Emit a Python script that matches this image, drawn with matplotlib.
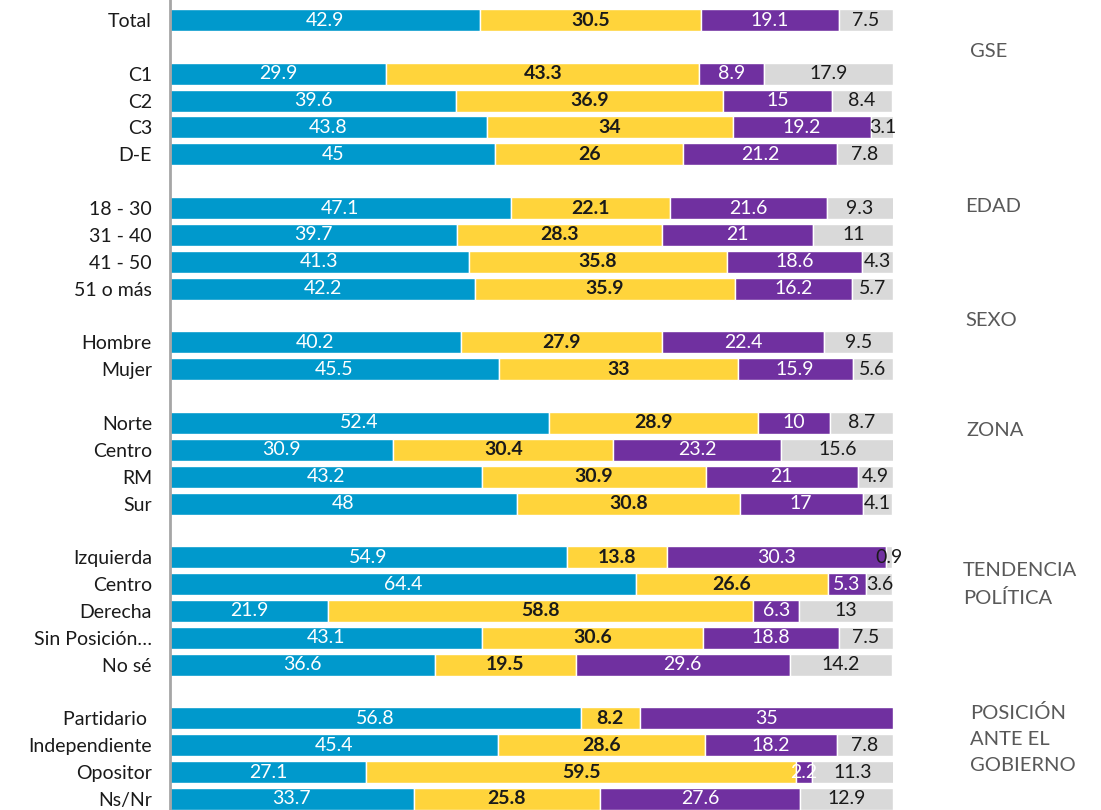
import matplotlib.pyplot as plt

plt.rcParams["font.family"] = ["Lato", "DejaVu Sans"]

# one slot per row; None leaves a blank row between groups
categories = [
    "Total", None,
    "C1", "C2", "C3", "D-E", None,
    "18 - 30", "31 - 40", "41 - 50", "51 o más", None,
    "Hombre", "Mujer", None,
    "Norte", "Centro", "RM", "Sur", None,
    "Izquierda", "Centro", "Derecha", "Sin Posición…", "No sé", None,
    "Partidario ", "Independiente", "Opositor", "Ns/Nr",
]

serie_1 = [42.9, 29.9, 39.6, 43.8, 45, 47.1, 39.7, 41.3, 42.2, 40.2, 45.5,
           52.4, 30.9, 43.2, 48, 54.9, 64.4, 21.9, 43.1, 36.6,
           56.8, 45.4, 27.1, 33.7]
serie_2 = [30.5, 43.3, 36.9, 34, 26, 22.1, 28.3, 35.8, 35.9, 27.9, 33,
           28.9, 30.4, 30.9, 30.8, 13.8, 26.6, 58.8, 30.6, 19.5,
           8.2, 28.6, 59.5, 25.8]
serie_3 = [19.1, 8.9, 15, 19.2, 21.2, 21.6, 21, 18.6, 16.2, 22.4, 15.9,
           10, 23.2, 21, 17, 30.3, 5.3, 6.3, 18.8, 29.6,
           35, 18.2, 2.2, 27.6]
serie_4 = [7.5, 17.9, 8.4, 3.1, 7.8, 9.3, 11, 4.3, 5.7, 9.5, 5.6,
           8.7, 15.6, 4.9, 4.1, 0.9, 3.6, 13, 7.5, 14.2,
           None, 7.8, 11.3, 12.9]

group_names = ["GSE", "EDAD", "SEXO", "ZONA", "TENDENCIA\nPOLÍTICA",
               "POSICIÓN\nANTE EL\nGOBIERNO"]
group_y = [1.19, 6.96, 11.2, 15.3, 21.02, 26.78]
group_x = [1.107, 1.100, 1.100, 1.102, 1.097, 1.107]

colors = ["#0099CC", "#FFD43B", "#7030A0", "#D9D9D9"]
text_colors = ["white", "#1a1a1a", "white", "#1a1a1a"]
weights = ["normal", "bold", "normal", "normal"]

rows = [i for i, c in enumerate(categories) if c is not None]
labels = [c for c in categories if c is not None]

fig = plt.figure(figsize=(11.01, 8.1), dpi=100)
ax = fig.add_axes([0.1544, 0, 0.6567, 1])

left = [0.0] * len(rows)
for k, serie in enumerate([serie_1, serie_2, serie_3, serie_4]):
    for j, (y, v) in enumerate(zip(rows, serie)):
        if v is None:
            continue
        ax.barh(y, v, left=left[j], height=0.82, color=colors[k],
                edgecolor="white", linewidth=1.0)
        ax.text(left[j] + v / 2, y, f"{v:g}", ha="center", va="center",
                fontsize=14, color=text_colors[k], fontweight=weights[k])
        left[j] += v

for name, gy, gx in zip(group_names, group_y, group_x):
    ax.text(gx, gy, name, transform=ax.get_yaxis_transform(),
            ha="left", va="center", fontsize=14.5, color="#595959",
            linespacing=1.65)

ax.set_yticks(rows)
ax.set_yticklabels(labels, fontsize=14, color="#1a1a1a")
ax.tick_params(axis="y", length=0, pad=13)
ax.set_xticks([])
ax.set_xlim(0, 100)
ax.set_ylim(29.41, -0.745)

for side in ["top", "right", "bottom"]:
    ax.spines[side].set_visible(False)
ax.spines["left"].set_color("#A6A6A6")
ax.spines["left"].set_linewidth(2)

fig.savefig("out.png", dpi=100)
